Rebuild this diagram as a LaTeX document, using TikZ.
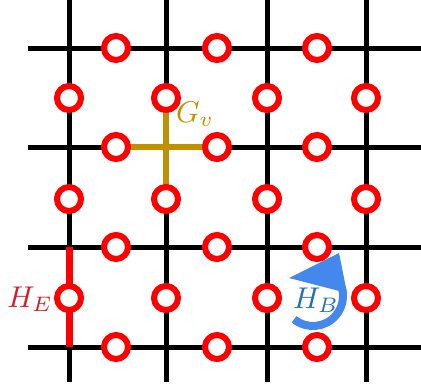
\documentclass[tikz,border=0pt]{standalone}
\usetikzlibrary{calc}
\definecolor{qred}{RGB}{255,0,0}
\definecolor{gold}{RGB}{191,144,0}
\definecolor{arrowblue}{RGB}{68,136,238}
\definecolor{labelblue}{RGB}{36,110,180}
\definecolor{labelred}{RGB}{215,30,40}
\begin{document}
\begin{tikzpicture}[x=1pt,y=-1pt,
  gridline/.style={line width=5pt,black},
  qubit/.style={circle,draw=qred,line width=6pt,fill=white,minimum size=24pt,inner sep=0pt},
  gvline/.style={line width=6pt,gold},
  heline/.style={line width=7pt,qred},
  biglabel/.style={inner sep=0pt,scale=3}]
\useasboundingbox (0,0) rectangle (421,386);
% grid end points
\foreach \y [count=\j] in {48,147,247,347} {
  \coordinate (hl\j) at (28,\y);
  \coordinate (hr\j) at (421,\y);
}
\foreach \x [count=\i] in {69,166,267,366} {
  \coordinate (vt\i) at (\x,0);
  \coordinate (vb\i) at (\x,382);
}
\foreach \j in {1,...,4} \draw[gridline] (hl\j) -- (hr\j);
\foreach \i in {1,...,4} \draw[gridline] (vt\i) -- (vb\i);
% vertices used by the operators
\coordinate (e1) at (69,247);
\coordinate (e2) at (69,347);
% qubit positions (nodes placed after the operator lines)
\foreach \y [count=\j] in {48,147,247,347} {
  \foreach \x [count=\i] in {116,217,317} {
    \coordinate (ph\i\j) at (\x,\y);
  }
}
\foreach \y [count=\j] in {98,199,298} {
  \foreach \x [count=\i] in {69,166,267,366} {
    \coordinate (pv\i\j) at (\x,\y);
  }
}
% G_v cross
\draw[gvline] (ph12) -- (ph22);
\draw[gvline] (pv21) -- (pv22);
% H_E line
\draw[heline] (e1) -- (e2);
% qubits
\foreach \j in {1,...,4} \foreach \i in {1,2,3} \node[qubit] (qh\i\j) at (ph\i\j) {};
\foreach \j in {1,2,3} \foreach \i in {1,...,4} \node[qubit] (qv\i\j) at (pv\i\j) {};
% H_B circular arrow
\coordinate (bc) at (313,296);
\draw[arrowblue,line width=8pt] ($(bc)+(129:30)$) arc[start angle=129,end angle=-18,radius=30];
\fill[arrowblue] (289,278) -- (339,253) -- (347,293) -- cycle;
% labels
\node[biglabel,text=gold] (Gv) at (195,114) {$G_v$};
\node[biglabel,text=labelred] (HE) at (30,299) {$H_E$};
\node[biglabel,text=labelblue] (HB) at (316,300) {$H_B$};
\end{tikzpicture}
\end{document}
